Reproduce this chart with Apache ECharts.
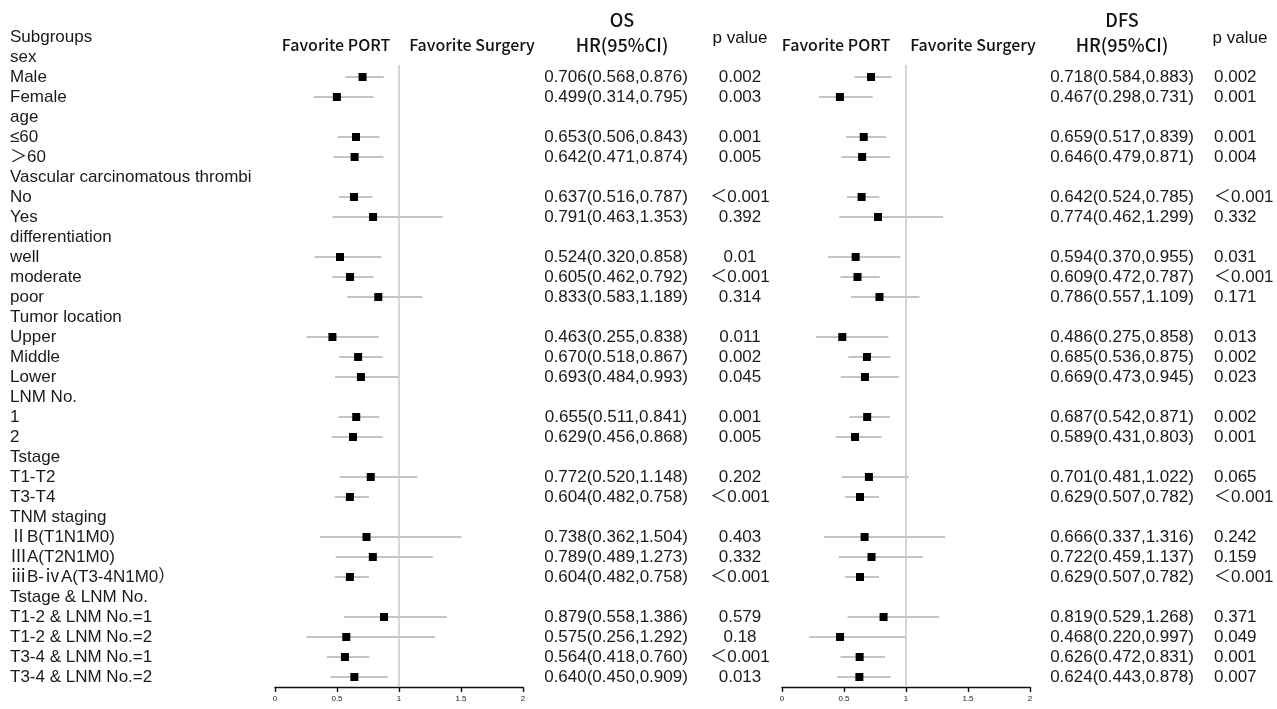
<!DOCTYPE html>
<html>
<head>
<meta charset="utf-8">
<script src="https://cdn.jsdelivr.net/npm/echarts@6/dist/echarts.min.js"></script>
<style>
html,body{margin:0;padding:0;background:#fff;}
#main{width:1277px;height:709px;}
</style>
</head>
<body>
<div id="main"></div>
<script>
// ---------------- data ----------------
const subgroups = [
  'Subgroups', 'sex', 'Male', 'Female', 'age', '≤60', '＞60',
  'Vascular carcinomatous thrombi', 'No', 'Yes',
  'differentiation', 'well', 'moderate', 'poor',
  'Tumor location', 'Upper', 'Middle', 'Lower',
  'LNM No.', '1', '2',
  'Tstage', 'T1-T2', 'T3-T4',
  'TNM staging', 'ⅡB(T1N1M0)', 'ⅢA(T2N1M0)', 'ⅲB-ⅳA(T3-4N1M0）',
  'Tstage & LNM No.', 'T1-2 & LNM No.=1', 'T1-2 & LNM No.=2', 'T3-4 & LNM No.=1', 'T3-4 & LNM No.=2'
];
const osHR = [null,null,0.706,0.499,null,0.653,0.642,null,0.637,0.791,null,0.524,0.605,0.833,null,0.463,0.670,0.693,null,0.655,0.629,null,0.772,0.604,null,0.738,0.789,0.604,null,0.879,0.575,0.564,0.640];
const osLo = [null,null,0.568,0.314,null,0.506,0.471,null,0.516,0.463,null,0.320,0.462,0.583,null,0.255,0.518,0.484,null,0.511,0.456,null,0.520,0.482,null,0.362,0.489,0.482,null,0.558,0.256,0.418,0.450];
const osHi = [null,null,0.876,0.795,null,0.843,0.874,null,0.787,1.353,null,0.858,0.792,1.189,null,0.838,0.867,0.993,null,0.841,0.868,null,1.148,0.758,null,1.504,1.273,0.758,null,1.386,1.292,0.760,0.909];
const osP  = ['','','0.002','0.003','','0.001','0.005','','＜0.001','0.392','','0.01','＜0.001','0.314','','0.011','0.002','0.045','','0.001','0.005','','0.202','＜0.001','','0.403','0.332','＜0.001','','0.579','0.18','＜0.001','0.013'];
const dfsHR = [null,null,0.718,0.467,null,0.659,0.646,null,0.642,0.774,null,0.594,0.609,0.786,null,0.486,0.685,0.669,null,0.687,0.589,null,0.701,0.629,null,0.666,0.722,0.629,null,0.819,0.468,0.626,0.624];
const dfsLo = [null,null,0.584,0.298,null,0.517,0.479,null,0.524,0.462,null,0.370,0.472,0.557,null,0.275,0.536,0.473,null,0.542,0.431,null,0.481,0.507,null,0.337,0.459,0.507,null,0.529,0.220,0.472,0.443];
const dfsHi = [null,null,0.883,0.731,null,0.839,0.871,null,0.785,1.299,null,0.955,0.787,1.109,null,0.858,0.875,0.945,null,0.871,0.803,null,1.022,0.782,null,1.316,1.137,0.782,null,1.268,0.997,0.831,0.878];
const dfsP = ['','','0.002','0.001','','0.001','0.004','','＜0.001','0.332','','0.031','＜0.001','0.171','','0.013','0.002','0.023','','0.002','0.001','','0.065','＜0.001','','0.242','0.159','＜0.001','','0.371','0.049','0.001','0.007'];
const xTicks = [0, 0.5, 1, 1.5, 2];

// ---------------- helpers ----------------
function hrText(hr, lo, hi) {
  return hr.map((h, i) => h == null ? '' : h.toFixed(3) + '(' + lo[i].toFixed(3) + ',' + hi[i].toFixed(3) + ')');
}
const osText = hrText(osHR, osLo, osHi);
const dfsText = hrText(dfsHR, dfsLo, dfsHi);
function pick(arr) { return v => (Number.isInteger(v) && arr[v] != null) ? arr[v] : ''; }
function ciData(hr, lo, hi) {
  const out = [];
  hr.forEach((h, i) => { if (h != null) out.push([h, i, lo[i], hi[i]]); });
  return out;
}
function ptData(hr) {
  const out = [];
  hr.forEach((h, i) => { if (h != null) out.push([h, i]); });
  return out;
}

const TXT = '"Liberation Sans", Arial, "Noto Sans CJK SC", sans-serif';
const HDR = '"Noto Sans CJK SC", "Noto Sans", sans-serif';
const ROWS_MAX = 32.5;

function xAxisFor(gi) {
  return {
    type: 'value', gridIndex: gi, min: 0, max: 2, interval: 0.5,
    axisLine: { show: true, onZero: false, lineStyle: { color: '#111', width: 1.4 } },
    axisTick: { show: true, length: 5, inside: false, lineStyle: { color: '#111', width: 1.4 } },
    axisLabel: { fontSize: 8, color: '#222', fontFamily: TXT, margin: 8,
      formatter: v => xTicks.includes(v) ? String(v) : '' },
    splitLine: { show: false }
  };
}
function yAxisFor(gi, position, labels, margin, align) {
  return {
    type: 'value', gridIndex: gi, inverse: true, min: 0, max: ROWS_MAX, interval: 1,
    position: position,
    axisLine: { show: false }, axisTick: { show: false }, splitLine: { show: false },
    axisLabel: { show: true, margin: margin, align: align, fontSize: 17, color: '#1a1a1a',
      fontFamily: TXT, formatter: pick(labels) }
  };
}
function ciSeries(xi, yi, hr, lo, hi) {
  return {
    type: 'custom', xAxisIndex: xi, yAxisIndex: yi, silent: true,
    data: ciData(hr, lo, hi),
    encode: { x: [2, 3], y: 1 },
    renderItem: (params, api) => {
      const row = api.value(1);
      const a = api.coord([api.value(2), row]);
      const b = api.coord([api.value(3), row]);
      return { type: 'line', shape: { x1: a[0], y1: a[1], x2: b[0], y2: b[1] },
        style: { stroke: '#b2b2b2', lineWidth: 1.5 } };
    },
    z: 2
  };
}
function ptSeries(xi, yi, hr) {
  return {
    type: 'scatter', xAxisIndex: xi, yAxisIndex: yi, silent: true,
    symbol: 'rect', symbolSize: 8, itemStyle: { color: '#000', opacity: 1 },
    data: ptData(hr), z: 4,
    markLine: {
      silent: true, symbol: ['none', 'none'], label: { show: false },
      lineStyle: { color: '#c9c9c9', width: 1.5, type: 'solid' },
      data: [[{ coord: [1, 1.4] }, { coord: [1, ROWS_MAX] }]]
    }
  };
}
function hdr(text, x, y, size, font, weight) {
  return { type: 'text', x: x, y: y, silent: true,
    style: { text: text, fill: '#111', font: (weight || 'normal') + ' ' + size + 'px ' + font,
      textAlign: 'center', textVerticalAlign: 'middle' } };
}

const chart = echarts.init(document.getElementById('main'), null, { renderer: 'canvas' });
chart.setOption({
  backgroundColor: '#fff',
  animation: false,
  grid: [
    { left: 275, top: 37, width: 248, height: 650 },
    { left: 782, top: 37, width: 248, height: 650 }
  ],
  xAxis: [xAxisFor(0), xAxisFor(1)],
  yAxis: [
    yAxisFor(0, 'left', subgroups, 265, 'left'),
    yAxisFor(0, 'right', osText, 93, 'center'),
    yAxisFor(0, 'right', osP, 217, 'center'),
    yAxisFor(1, 'right', dfsText, 92, 'center'),
    yAxisFor(1, 'right', dfsP, 184, 'left')
  ],
  series: [
    ciSeries(0, 0, osHR, osLo, osHi),
    ptSeries(0, 0, osHR),
    ciSeries(1, 3, dfsHR, dfsLo, dfsHi),
    ptSeries(1, 3, dfsHR)
  ],
  graphic: [
    hdr('Favorite PORT', 336, 45, 16, HDR, '500'),
    hdr('Favorite Surgery', 472, 45, 16, HDR, '500'),
    hdr('OS', 622, 20, 18, HDR, '500'),
    hdr('HR(95%CI)', 622, 45, 18, HDR, '500'),
    hdr('p value', 740, 38, 17, TXT, 'normal'),
    hdr('Favorite PORT', 836, 45, 16, HDR, '500'),
    hdr('Favorite Surgery', 973, 45, 16, HDR, '500'),
    hdr('DFS', 1122, 20, 18, HDR, '500'),
    hdr('HR(95%CI)', 1122, 45, 18, HDR, '500'),
    hdr('p value', 1240, 38, 17, TXT, 'normal')
  ]
});
</script>
</body>
</html>
